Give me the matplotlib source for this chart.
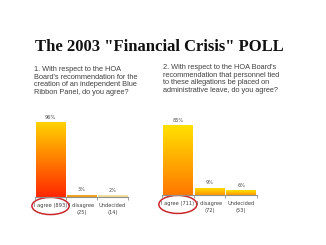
import numpy as np
import matplotlib.pyplot as plt
from matplotlib.patches import Ellipse
from matplotlib.colors import LinearSegmentedColormap

# Daten
title = 'The 2003 "Financial Crisis" POLL'
q1 = ("1. With respect to the HOA\nBoard's recommendation for the\n"
      "creation of an independent Blue\nRibbon Panel, do you agree?")
q2 = ("2. With respect to the HOA Board's\nrecommendation that personnel tied\n"
      "to these allegations be placed on\nadministrative leave, do you agree?")
labels1 = ['I agree (893)', 'I disagree\n(25)', 'Undecided\n(14)']
labels2 = ['I agree (711)', 'I disagree\n(72)', 'Undecided\n(53)']
pct1 = [96, 3, 2]
pct2 = [85, 9, 6]

W, H = 326, 245
fig = plt.figure(figsize=(W / 100, H / 100), dpi=100)
fig.patch.set_facecolor('white')


def px_axes(x0, x1, ybot, height):
    return fig.add_axes([x0 / W, (H - ybot) / H, (x1 - x0) / W, height / H])


def grad_bar(ax, bar, top, bottom):
    cmap = LinearSegmentedColormap.from_list('g', [bottom, top])
    x, y = bar.get_x(), bar.get_y()
    w, h = bar.get_width(), bar.get_height()
    img = ax.imshow(np.linspace(0, 1, 64).reshape(-1, 1), cmap=cmap, origin='lower',
                    extent=[x, x + w, y, y + h], aspect='auto', zorder=2)
    img.set_clip_path(bar)
    bar.set_facecolor('none')


def panel(ax, pct, labels, colors):
    x = np.arange(len(pct))
    bars = ax.bar(x, pct, width=0.94, color='none', edgecolor='none')
    for b, (top, bottom) in zip(bars, colors):
        grad_bar(ax, b, top, bottom)
    for b, v in zip(bars, pct):
        ax.text(b.get_x() + b.get_width() / 2, v + 3, f'{v}%', ha='center', va='bottom',
                fontsize=3.6, color='#505050')
    ax.set_xlim(-0.5, 2.5)
    ax.set_ylim(0, 100)
    for s in ['top', 'right', 'left']:
        ax.spines[s].set_visible(False)
    ax.spines['bottom'].set_color('#909090')
    ax.spines['bottom'].set_linewidth(0.8)
    ax.set_yticks([])
    ax.set_xticks(x)
    ax.set_xticklabels(labels, fontsize=3.7, color='#404040', linespacing=1.5)
    ax.tick_params(axis='x', which='major', length=0, pad=4.5)
    ax.set_xticks([-0.5, 0.5, 1.5, 2.5], minor=True)
    ax.tick_params(axis='x', which='minor', length=2, color='#909090', width=0.6)
    ax.add_patch(Ellipse((0, -0.115), 1.2, 0.22, transform=ax.get_xaxis_transform(),
                         fill=False, edgecolor='#c8282e', linewidth=1.1, clip_on=False))


ax1 = px_axes(35, 128, 197, 78)
panel(ax1, pct1, labels1,
      [('#ffd200', '#ff2800'), ('#f5b030', '#f09a18'), ('#f2e4a8', '#eedc98')])

ax2 = px_axes(162, 257, 195, 82)
panel(ax2, pct2, labels2,
      [('#ffe000', '#ff7800'), ('#ffe400', '#ff9800'), ('#ffe400', '#ff9800')])

fig.text(0.49, (H - 47) / H, title, ha='center', va='center', fontsize=12,
         fontweight='bold', family='Liberation Serif', color='#111111')
fig.text(34 / W, (H - 66) / H, q1, ha='left', va='top', fontsize=5.3,
         color='#404040', linespacing=1.15, family='Liberation Sans')
fig.text(163 / W, (H - 64) / H, q2, ha='left', va='top', fontsize=5.3,
         color='#404040', linespacing=1.15, family='Liberation Sans')

fig.savefig('out.png', dpi=100)
